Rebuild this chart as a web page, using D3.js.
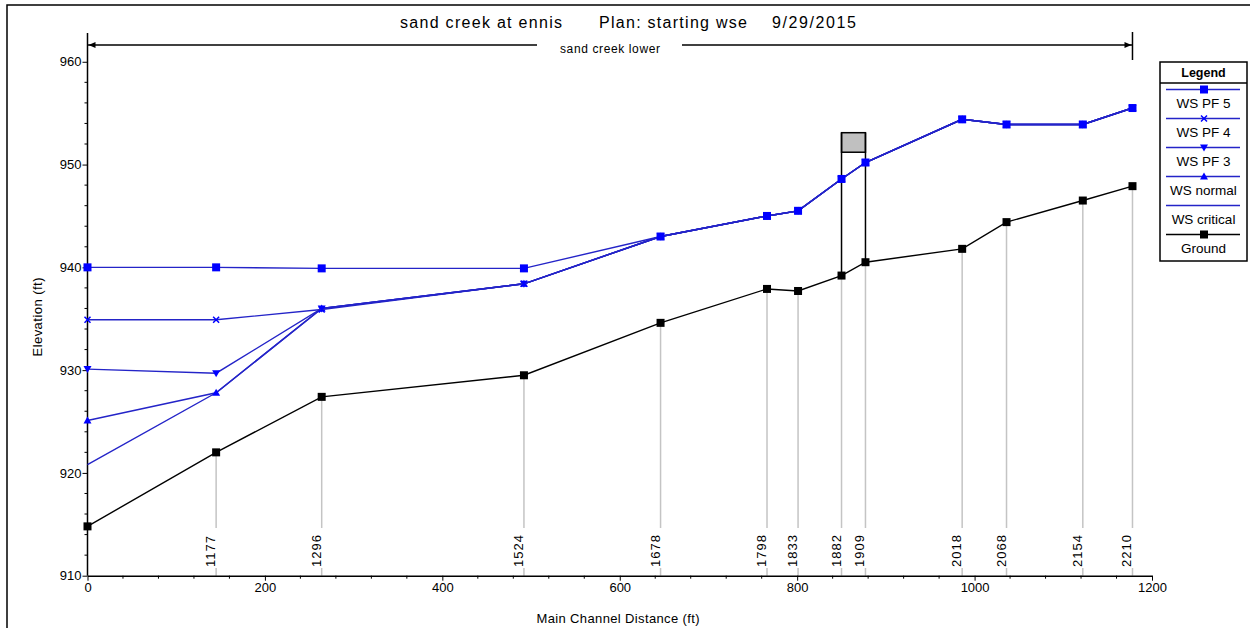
<!DOCTYPE html>
<meta charset="utf-8">
<style>
body { margin: 0; background: #fff; }
svg { font-family: "Liberation Sans", Arial, sans-serif; }
.axis text { font-size: 13px; fill: #000; }
.axis path, .axis line { stroke: #000; }
.sta text { font-size: 13px; letter-spacing: 1px; }
</style>
<svg width="1250" height="628"></svg>

<script src="https://d3js.org/d3.v7.min.js"></script>
<script>
// main channel distance (ft) and river station labels
var dist = [0, 145, 264, 492, 646, 766, 801, 850, 877, 986, 1036, 1122, 1178];
var stations = [null, "1177", "1296", "1524", "1678", "1798", "1833", "1882", "1909", "2018", "2068", "2154", "2210"];

var ground   = [914.8, 922.0, 927.4, 929.5, 934.6, 937.9, 937.7, 939.2, 940.5, 941.8, 944.4, 946.5, 947.9];
var wsPF5    = [940.0, 940.0, 939.9, 939.9, 943.0, 945.0, 945.5, 948.6, 950.2, 954.4, 953.9, 953.9, 955.5];
var wsPF4    = [934.9, 934.9, 935.9, 938.4, 943.0, 945.0, 945.5, 948.6, 950.2, 954.4, 953.9, 953.9, 955.5];
var wsPF3    = [930.1, 929.7, 936.0, 938.4, 943.0, 945.0, 945.5, 948.6, 950.2, 954.4, 953.9, 953.9, 955.5];
var wsNormal = [925.1, 927.8, 936.0, 938.4, 943.0, 945.0, 945.5, 948.6, 950.2, 954.4, 953.9, 953.9, 955.5];
var wsCrit   = [920.8, 927.8, 936.0, 938.4, 943.0, 945.0, 945.5, 948.6, 950.2, 954.4, 953.9, 953.9, 955.5];

// bridge between 1882 and 1909: low chord / high chord
var bridgeDist = [850, 877];
var bridgeDeck = [951.2, 953.1];

var xTicks = [0, 200, 400, 600, 800, 1000, 1200];
var yTicks = [910, 920, 930, 940, 950, 960];

var series = [
  {name: "WS  PF 5",     data: wsPF5,    marker: "square"},
  {name: "WS  PF 4",     data: wsPF4,    marker: "x"},
  {name: "WS  PF 3",     data: wsPF3,    marker: "down"},
  {name: "WS  normal",   data: wsNormal, marker: "up"},
  {name: "WS  critical", data: wsCrit,   marker: "none"},
  {name: "Ground",       data: ground,   marker: "ground"}
];

var blue = "#0000ff", lineBlue = "#2424c8";

var svg = d3.select("svg");

var x = d3.scaleLinear().domain([0, 1200]).range([87.5, 1152]);
var y = d3.scaleLinear().domain([910, 962.8]).range([575.7, 33]);

// frame
svg.append("rect").attr("x", 7).attr("y", 5).attr("width", 1400).attr("height", 800)
  .attr("fill", "none").attr("stroke", "#000").attr("stroke-width", 1.5);

// title
var title = svg.append("g").attr("font-size", 16);
title.append("text").attr("x", 400).attr("y", 28).attr("textLength", 162).text("sand creek at ennis");
title.append("text").attr("x", 599).attr("y", 28).attr("textLength", 148).text("Plan: starting wse");
title.append("text").attr("x", 772).attr("y", 28).attr("textLength", 84).text("9/29/2015");

// reach arrow
var yA = 45, xL = x(dist[0]), xR = x(dist[dist.length - 1]);
svg.append("line").attr("x1", xL).attr("x2", 537).attr("y1", yA).attr("y2", yA).attr("stroke", "#000").attr("stroke-width", 1.3);
svg.append("line").attr("x1", 682).attr("x2", xR).attr("y1", yA).attr("y2", yA).attr("stroke", "#000").attr("stroke-width", 1.3);
svg.append("path").attr("d", "M" + (xL + 1) + "," + yA + "l7,-3l0,6z").attr("fill", "#000");
svg.append("path").attr("d", "M" + (xR - 1) + "," + yA + "l-7,-3l0,6z").attr("fill", "#000");
svg.append("line").attr("x1", xR).attr("x2", xR).attr("y1", 32).attr("y2", 60).attr("stroke", "#000").attr("stroke-width", 1.5);
svg.append("text").attr("x", 610).attr("y", 53).attr("text-anchor", "middle").attr("font-size", 12)
  .attr("textLength", 100).text("sand creek lower");

// station lines (gray) with labels
var labTop = 528, labBot = 568;
var sta = svg.append("g").attr("class", "sta");
dist.forEach(function(d, i) {
  if (!stations[i]) return;
  var xx = x(d);
  sta.append("line").attr("x1", xx).attr("x2", xx).attr("y1", y(ground[i])).attr("y2", labTop)
    .attr("stroke", "#c4c4c4").attr("stroke-width", 1.5);
  sta.append("line").attr("x1", xx).attr("x2", xx).attr("y1", labBot).attr("y2", y(910))
    .attr("stroke", "#c4c4c4").attr("stroke-width", 1.5);
  sta.append("text").attr("transform", "translate(" + (xx - 1) + "," + (labBot - 1) + ") rotate(-90)")
    .text(stations[i]);
});

// axes
var yAxis = svg.append("g").attr("class", "axis").attr("transform", "translate(" + x(0) + ",0)")
  .call(d3.axisLeft(y).tickValues(yTicks).tickSize(5).tickSizeOuter(0).tickPadding(1).tickFormat(d3.format("d")));
yAxis.select(".domain").attr("d", "M0," + y.range()[1] + "V" + y(910)).attr("stroke-width", 1.5);
yAxis.append("g").selectAll("line").data(d3.range(912, 962, 2).filter(function(v) { return v % 10; }))
  .enter().append("line").attr("x1", -3).attr("x2", 0).attr("y1", y).attr("y2", y).attr("stroke", "#000");

var xAxis = svg.append("g").attr("class", "axis").attr("transform", "translate(0," + y(910) + ")")
  .call(d3.axisBottom(x).tickValues(xTicks).tickSize(5).tickSizeOuter(0).tickPadding(2).tickFormat(d3.format("d")));
xAxis.select(".domain").attr("stroke-width", 1.5);
xAxis.append("g").selectAll("line").data(d3.range(40, 1200, 40).filter(function(v) { return v % 200; }))
  .enter().append("line").attr("x1", x).attr("x2", x).attr("y1", 0).attr("y2", 3).attr("stroke", "#000");

svg.append("text").attr("transform", "translate(42,317) rotate(-90)").attr("text-anchor", "middle")
  .attr("font-size", 13).attr("textLength", 79).text("Elevation (ft)");
svg.append("text").attr("x", 618).attr("y", 623).attr("text-anchor", "middle")
  .attr("font-size", 13).attr("textLength", 163).text("Main Channel Distance (ft)");

// bridge
svg.append("rect").attr("x", x(bridgeDist[0])).attr("y", y(bridgeDeck[1]))
  .attr("width", x(bridgeDist[1]) - x(bridgeDist[0])).attr("height", y(bridgeDeck[0]) - y(bridgeDeck[1]))
  .attr("fill", "#c0c0c0").attr("stroke", "#000").attr("stroke-width", 1.5);
bridgeDist.forEach(function(d) {
  var i = dist.indexOf(d);
  svg.append("line").attr("x1", x(d)).attr("x2", x(d)).attr("y1", y(ground[i])).attr("y2", y(bridgeDeck[1]))
    .attr("stroke", "#000").attr("stroke-width", 1.5);
});

// markers
function marker(g, type, cx, cy) {
  if (type === "square") {
    g.append("rect").attr("x", cx - 4).attr("y", cy - 4).attr("width", 8).attr("height", 8).attr("fill", blue);
  } else if (type === "ground") {
    g.append("rect").attr("x", cx - 4).attr("y", cy - 4).attr("width", 8).attr("height", 8).attr("fill", "#000");
  } else if (type === "x") {
    g.append("path").attr("d", "M" + (cx - 3) + "," + (cy - 3) + "l6,6M" + (cx - 3) + "," + (cy + 3) + "l6,-6")
      .attr("stroke", blue).attr("stroke-width", 1.5);
  } else if (type === "down") {
    g.append("path").attr("d", "M" + (cx - 4) + "," + (cy - 3) + "h8l-4,7z").attr("fill", blue);
  } else if (type === "up") {
    g.append("path").attr("d", "M" + (cx - 4) + "," + (cy + 3) + "h8l-4,-7z").attr("fill", blue);
  }
}

var line = d3.line().x(function(d) { return x(d[0]); }).y(function(d) { return y(d[1]); });
var plot = svg.append("g");
series.slice().reverse().forEach(function(s) {
  if (s.marker === "ground") return;
  var pts = dist.map(function(d, i) { return [d, s.data[i]]; });
  plot.append("path").attr("d", line(pts)).attr("fill", "none").attr("stroke", lineBlue).attr("stroke-width", 1.4);
  pts.forEach(function(p) { marker(plot, s.marker, x(p[0]), y(p[1])); });
});
var gpts = dist.map(function(d, i) { return [d, ground[i]]; });
plot.append("path").attr("d", line(gpts)).attr("fill", "none").attr("stroke", "#000").attr("stroke-width", 1.4);
gpts.forEach(function(p) { marker(plot, "ground", x(p[0]), y(p[1])); });

// legend
var lg = svg.append("g").attr("transform", "translate(1160,62)");
lg.append("rect").attr("width", 87).attr("height", 199).attr("fill", "#fff").attr("stroke", "#000").attr("stroke-width", 1.5);
lg.append("text").attr("x", 43.5).attr("y", 15).attr("text-anchor", "middle").attr("font-size", 12.5)
  .attr("font-weight", "bold").text("Legend");
lg.append("line").attr("x1", 0).attr("x2", 87).attr("y1", 21).attr("y2", 21).attr("stroke", "#000").attr("stroke-width", 1.5);
series.forEach(function(s, i) {
  var ly = 27.5 + i * 29;
  var col = s.marker === "ground" ? "#000" : lineBlue;
  lg.append("line").attr("x1", 6).attr("x2", 80).attr("y1", ly).attr("y2", ly).attr("stroke", col).attr("stroke-width", 1.4);
  marker(lg, s.marker, 44, ly);
  lg.append("text").attr("x", 43.5).attr("y", ly + 18).attr("text-anchor", "middle").attr("font-size", 13.5)
    .text(s.name);
});
</script>
